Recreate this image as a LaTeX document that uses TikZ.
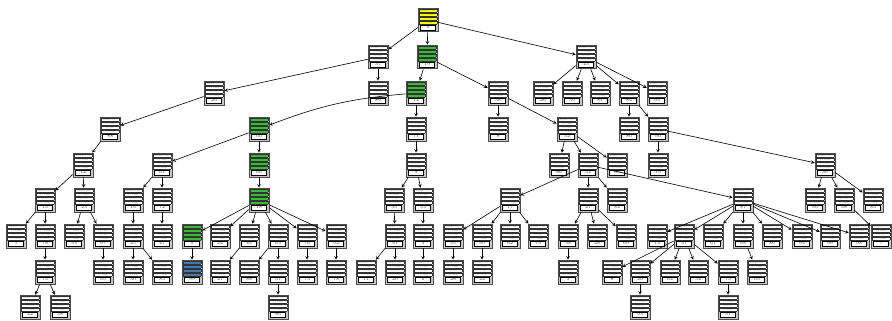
\documentclass[tikz,border=0pt]{standalone}
\usepackage{fontspec}
\usetikzlibrary{arrows}

\definecolor{goalyel}{HTML}{FFFF00}
\definecolor{pathgrn}{HTML}{33C033}
\definecolor{endblue}{HTML}{3F7AB5}
\definecolor{plain}{HTML}{FFFFFF}

\setlength{\fboxsep}{0.3pt}
\setlength{\fboxrule}{0.3pt}
\setlength{\lineskip}{0.6pt}
\setlength{\lineskiplimit}{0pt}
\newcommand{\cellrow}[2]{\fcolorbox{black!80}{#1}{\makebox[16.6pt]{\rule[-0.4pt]{0pt}{2.1pt}\textcolor{black!55}{#2}}}}
\newcommand{\numbox}[1]{{\setlength{\fboxrule}{0.8pt}\fcolorbox{black}{white}{\makebox[14.2pt]{\rule[-1pt]{0pt}{4pt}\fontsize{4.4}{4.4}\selectfont\textcolor{black!75}{#1}}}}}
\newcommand{\stbody}[2]{\cellrow{#1}{minDist = 0.0}\\ \cellrow{#1}{g = 0.0000}\\ \cellrow{#1}{h = 0.0}\\ \cellrow{#1}{f = 0.0000}\\ \numbox{#2}}

\begin{document}
\begin{tikzpicture}[x=1pt,y=-1pt,>=stealth,auto,
  st/.style={draw=black!70,line width=0.8pt,fill=gray!45,inner sep=1pt,align=center,
    font=\fontsize{1.6}{1.6}\selectfont},
  lbl/.style={font=\fontsize{2}{2}\selectfont,text=black!50,pos=0.8,inner sep=0.5pt},
  every edge/.style={draw,line width=0.6pt}]
\useasboundingbox (0,0) rectangle (892,321);

% level 0 and 1
\node[st] (r0) at (428,20) {\stbody{goalyel}{0}};
\node[st] (n37) at (378,57) {\stbody{plain}{37}};
\node[st] (n19) at (427,57) {\stbody{pathgrn}{19}};
\node[st] (n43) at (586,57) {\stbody{plain}{43}};

% level 2
\node[st] (n29) at (214,93) {\stbody{plain}{29}};
\node[st] (n89) at (378,93) {\stbody{plain}{89}};
\node[st] (n14) at (416,93) {\stbody{pathgrn}{14}};
\node[st] (n38) at (498,93) {\stbody{plain}{38}};
\node[st] (n26) at (543,93) {\stbody{plain}{26}};
\node[st] (n39) at (572,93) {\stbody{plain}{39}};
\node[st] (n81) at (600,93) {\stbody{plain}{81}};
\node[st] (n84) at (629,93) {\stbody{plain}{84}};
\node[st] (n95) at (657,93) {\stbody{plain}{95}};

% level 3
\node[st] (n88) at (110,129) {\stbody{plain}{88}};
\node[st] (n60) at (259,129) {\stbody{pathgrn}{60}};
\node[st] (n71) at (416,129) {\stbody{plain}{71}};
\node[st] (n8) at (498,129) {\stbody{plain}{8}};
\node[st] (n32) at (567,129) {\stbody{plain}{32}};
\node[st] (n80) at (629,129) {\stbody{plain}{80}};
\node[st] (n90) at (658,129) {\stbody{plain}{90}};

% level 4
\node[st] (n12) at (83,165) {\stbody{plain}{12}};
\node[st] (n61) at (162,165) {\stbody{plain}{61}};
\node[st] (n66) at (259,165) {\stbody{pathgrn}{66}};
\node[st] (n9) at (416,165) {\stbody{plain}{9}};
\node[st] (n86) at (559,165) {\stbody{plain}{86}};
\node[st] (n52) at (588,165) {\stbody{plain}{52}};
\node[st] (n67) at (617,165) {\stbody{plain}{67}};
\node[st] (n19b) at (658,165) {\stbody{plain}{19}};
\node[st] (n36) at (825,165) {\stbody{plain}{36}};

% level 5
\node[st] (n15) at (45,200) {\stbody{plain}{15}};
\node[st] (n23) at (84,200) {\stbody{plain}{23}};
\node[st] (n16) at (133,200) {\stbody{plain}{16}};
\node[st] (n72) at (162,200) {\stbody{plain}{72}};
\node[st] (n18) at (259,200) {\stbody{pathgrn}{18}};
\node[st] (n35) at (394,200) {\stbody{plain}{35}};
\node[st] (n53) at (423,200) {\stbody{plain}{53}};
\node[st] (n17) at (510,200) {\stbody{plain}{17}};
\node[st] (n27) at (588,200) {\stbody{plain}{27}};
\node[st] (n82) at (617,200) {\stbody{plain}{82}};
\node[st] (n87) at (743,200) {\stbody{plain}{87}};
\node[st] (n56) at (815,200) {\stbody{plain}{56}};
\node[st] (n58) at (844,200) {\stbody{plain}{58}};
\node[st] (n85) at (873,200) {\stbody{plain}{85}};

% level 6
\node[st] (n1) at (16,236) {\stbody{plain}{1}};
\node[st] (n78) at (45,236) {\stbody{plain}{78}};
\node[st] (n33) at (74,236) {\stbody{plain}{33}};
\node[st] (n97) at (103,236) {\stbody{plain}{97}};
\node[st] (n25) at (133,236) {\stbody{plain}{25}};
\node[st] (n47) at (162,236) {\stbody{plain}{47}};
\node[st] (n5) at (192,236) {\stbody{pathgrn}{5}};
\node[st] (n24) at (220,236) {\stbody{plain}{24}};
\node[st] (n45) at (249,236) {\stbody{plain}{45}};
\node[st] (n63) at (278,236) {\stbody{plain}{63}};
\node[st] (n76) at (307,236) {\stbody{plain}{76}};
\node[st] (n92) at (336,236) {\stbody{plain}{92}};
\node[st] (n91) at (395,236) {\stbody{plain}{91}};
\node[st] (n3) at (423,236) {\stbody{plain}{3}};
\node[st] (n55) at (453,236) {\stbody{plain}{55}};
\node[st] (n59) at (482,236) {\stbody{plain}{59}};
\node[st] (n62) at (510,236) {\stbody{plain}{62}};
\node[st] (n79) at (538,236) {\stbody{plain}{79}};
\node[st] (n38b) at (568,236) {\stbody{plain}{38}};
\node[st] (n48) at (597,236) {\stbody{plain}{48}};
\node[st] (n69b) at (626,236) {\stbody{plain}{69}};
\node[st] (n13) at (657,236) {\stbody{plain}{13}};
\node[st] (n37b) at (684,236) {\stbody{plain}{37}};
\node[st] (n61b) at (713,236) {\stbody{plain}{61}};
\node[st] (n68) at (743,236) {\stbody{plain}{68}};
\node[st] (n86b) at (772,236) {\stbody{plain}{86}};
\node[st] (n94) at (802,236) {\stbody{plain}{94}};
\node[st] (n96) at (830,236) {\stbody{plain}{96}};
\node[st] (n98) at (859,236) {\stbody{plain}{98}};
\node[st] (n7) at (881,236) {\stbody{plain}{7}};

% level 7
\node[st] (n75) at (45,272) {\stbody{plain}{75}};
\node[st] (n69) at (103,272) {\stbody{plain}{69}};
\node[st] (n30) at (133,272) {\stbody{plain}{30}};
\node[st] (n83) at (162,272) {\stbody{plain}{83}};
\node[st] (n99) at (192,272) {\stbody{endblue}{99}};
\node[st] (n27b) at (220,272) {\stbody{plain}{27}};
\node[st] (n88b) at (249,272) {\stbody{plain}{88}};
\node[st] (n57) at (278,272) {\stbody{plain}{57}};
\node[st] (n73) at (307,272) {\stbody{plain}{73}};
\node[st] (n78b) at (336,272) {\stbody{plain}{78}};
\node[st] (n11) at (366,272) {\stbody{plain}{11}};
\node[st] (n20) at (395,272) {\stbody{plain}{20}};
\node[st] (n6) at (423,272) {\stbody{plain}{6}};
\node[st] (n28) at (453,272) {\stbody{plain}{28}};
\node[st] (n22) at (482,272) {\stbody{plain}{22}};
\node[st] (n3b) at (568,272) {\stbody{plain}{3}};
\node[st] (n8b) at (612,272) {\stbody{plain}{8}};
\node[st] (n20b) at (640,272) {\stbody{plain}{20}};
\node[st] (n64) at (670,272) {\stbody{plain}{64}};
\node[st] (n54) at (698,272) {\stbody{plain}{54}};
\node[st] (n75b) at (728,272) {\stbody{plain}{75}};
\node[st] (n65) at (757,272) {\stbody{plain}{65}};

% level 8
\node[st] (n42) at (30,307) {\stbody{plain}{42}};
\node[st] (n58b) at (60,307) {\stbody{plain}{58}};
\node[st] (n86c) at (278,307) {\stbody{plain}{86}};
\node[st] (n93) at (640,307) {\stbody{plain}{93}};
\node[st] (n51) at (728,307) {\stbody{plain}{51}};

\path
(r0) edge[->] node[lbl]{1} (n37)
(r0) edge[->] node[lbl]{1} (n19)
(r0) edge[->] node[lbl]{1} (n43)
(n37) edge[->] node[lbl]{1} (n29)
(n37) edge[->] node[lbl]{1} (n89)
(n19) edge[->] node[lbl]{1} (n14)
(n19) edge[->] node[lbl]{1} (n38)
(n43) edge[->] node[lbl]{1} (n26)
(n43) edge[->] node[lbl]{1} (n39)
(n43) edge[->] node[lbl]{1} (n81)
(n43) edge[->] node[lbl]{1} (n84)
(n43) edge[->] node[lbl]{1} (n95)
(n29) edge[->] node[lbl]{1} (n88)
(n14) edge[->,bend right=8] node[lbl,swap]{1} (n60)
(n14) edge[->] node[lbl]{1} (n71)
(n38) edge[->] node[lbl]{1} (n8)
(n38) edge[->] node[lbl]{1} (n32)
(n84) edge[->] node[lbl]{1} (n80)
(n84) edge[->] node[lbl]{1} (n90)
(n88) edge[->] node[lbl]{1} (n12)
(n60) edge[->] node[lbl]{1} (n61)
(n60) edge[->] node[lbl]{1} (n66)
(n71) edge[->] node[lbl]{1} (n9)
(n32) edge[->] node[lbl]{1} (n86)
(n32) edge[->] node[lbl]{1} (n52)
(n32) edge[->] node[lbl]{1} (n67)
(n90) edge[->] node[lbl]{1} (n19b)
(n90) edge[->] node[lbl]{1} (n36)
(n12) edge[->] node[lbl]{1} (n15)
(n12) edge[->] node[lbl]{1} (n23)
(n61) edge[->] node[lbl]{1} (n16)
(n61) edge[->] node[lbl]{1} (n72)
(n66) edge[->] node[lbl]{1} (n18)
(n9) edge[->] node[lbl]{1} (n35)
(n9) edge[->] node[lbl]{1} (n53)
(n52) edge[->] node[lbl]{1} (n17)
(n52) edge[->] node[lbl]{1} (n27)
(n52) edge[->] node[lbl]{1} (n82)
(n52) edge[->] node[lbl]{1} (n87)
(n36) edge[->] node[lbl]{1} (n56)
(n36) edge[->] node[lbl]{1} (n58)
(n36) edge[->] node[lbl]{1} (n85)
(n15) edge[->] node[lbl]{1} (n1)
(n15) edge[->] node[lbl]{1} (n78)
(n23) edge[->] node[lbl]{1} (n33)
(n23) edge[->] node[lbl]{1} (n97)
(n16) edge[->] node[lbl]{1} (n25)
(n72) edge[->] node[lbl]{1} (n47)
(n18) edge[->] node[lbl]{1} (n5)
(n18) edge[->] node[lbl]{1} (n24)
(n18) edge[->] node[lbl]{1} (n45)
(n18) edge[->] node[lbl]{1} (n63)
(n18) edge[->] node[lbl]{1} (n76)
(n18) edge[->] node[lbl]{1} (n92)
(n35) edge[->] node[lbl]{1} (n91)
(n53) edge[->] node[lbl]{1} (n3)
(n17) edge[->] node[lbl]{1} (n55)
(n17) edge[->] node[lbl]{1} (n59)
(n17) edge[->] node[lbl]{1} (n62)
(n17) edge[->] node[lbl]{1} (n79)
(n27) edge[->] node[lbl]{1} (n38b)
(n27) edge[->] node[lbl]{1} (n48)
(n27) edge[->] node[lbl]{1} (n69b)
(n87) edge[->] node[lbl]{1} (n13)
(n87) edge[->] node[lbl]{1} (n37b)
(n87) edge[->] node[lbl]{1} (n61b)
(n87) edge[->] node[lbl]{1} (n68)
(n87) edge[->] node[lbl]{1} (n86b)
(n87) edge[->] node[lbl]{1} (n94)
(n87) edge[->] node[lbl]{1} (n96)
(n87) edge[->] node[lbl]{1} (n98)
(n58) edge[->] node[lbl]{1} (n7)
(n78) edge[->] node[lbl]{1} (n75)
(n97) edge[->] node[lbl]{1} (n69)
(n25) edge[->] node[lbl]{1} (n30)
(n25) edge[->] node[lbl]{1} (n83)
(n5) edge[->] node[lbl]{1} (n99)
(n45) edge[->] node[lbl]{1} (n27b)
(n63) edge[->] node[lbl]{1} (n88b)
(n63) edge[->] node[lbl]{1} (n57)
(n76) edge[->] node[lbl]{1} (n73)
(n92) edge[->] node[lbl]{1} (n78b)
(n91) edge[->] node[lbl]{1} (n11)
(n91) edge[->] node[lbl]{1} (n20)
(n3) edge[->] node[lbl]{1} (n6)
(n55) edge[->] node[lbl]{1} (n28)
(n59) edge[->] node[lbl]{1} (n22)
(n38b) edge[->] node[lbl]{1} (n3b)
(n37b) edge[->] node[lbl]{1} (n8b)
(n37b) edge[->] node[lbl]{1} (n20b)
(n37b) edge[->] node[lbl]{1} (n64)
(n37b) edge[->] node[lbl]{1} (n54)
(n37b) edge[->] node[lbl]{1} (n75b)
(n68) edge[->] node[lbl]{1} (n65)
(n75) edge[->] node[lbl]{1} (n42)
(n75) edge[->] node[lbl]{1} (n58b)
(n57) edge[->] node[lbl]{1} (n86c)
(n20b) edge[->] node[lbl]{1} (n93)
(n75b) edge[->] node[lbl]{1} (n51);
\end{tikzpicture}
\end{document}
